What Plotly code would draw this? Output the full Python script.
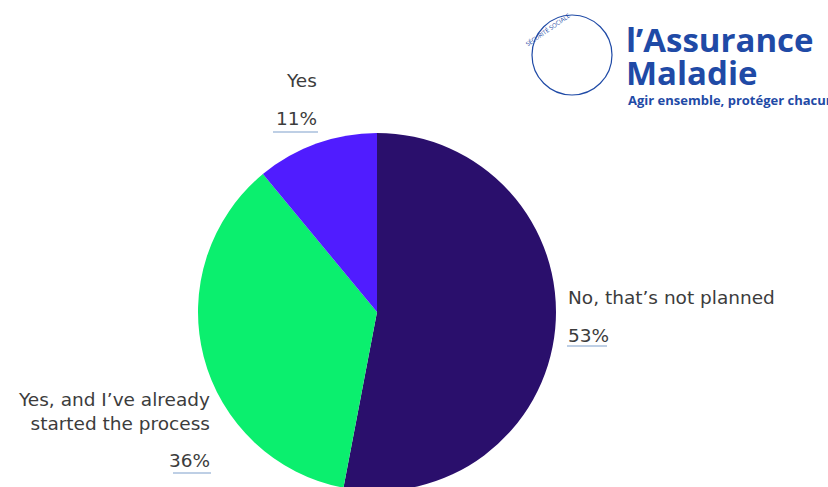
import plotly.graph_objects as go

# ---- data ----
labels = ["No, that’s not planned", "Yes, and I’ve already started the process", "Yes"]
label_text = ["No, that’s not planned", "Yes, and I’ve already<br>started the process", "Yes"]
values = [53, 36, 11]
pct_text = ["53%", "36%", "11%"]
colors = ["#2a0f6c", "#0bef6e", "#501cff"]

W, H = 828, 491
TOP = 133

def px(x):
    return x / W

def py(y):
    return (H - y) / (H - TOP)

fig = go.Figure(go.Pie(
    labels=labels,
    values=values,
    marker=dict(colors=colors, line=dict(width=0)),
    sort=False,
    direction="clockwise",
    rotation=0,
    textinfo="none",
    hoverinfo="label+percent",
    domain=dict(x=[px(198), px(556)], y=[0, 1]),
    showlegend=False,
))

txt_font = dict(family="DejaVu Sans, sans-serif", size=18.5, color="#3c3c3c")
under_col = "#a9bfdc"

ann = []
shapes = []
# label positions (layout)
pos = [
    dict(lx=566, ly=297, lanchor="left", px_=566, py_=335, ux=(567, 607), uy=346),
    dict(lx=212, ly=411, lanchor="right", px_=212, py_=460, ux=(173, 211), uy=473),
    dict(lx=319, ly=80, lanchor="right", px_=319, py_=118, ux=(273, 318), uy=132),
]
for i, p in enumerate(pos):
    ann.append(dict(text=label_text[i], x=px(p["lx"]), y=py(p["ly"]), xref="paper", yref="paper",
                    xanchor=p["lanchor"], yanchor="middle", align=p["lanchor"], showarrow=False,
                    font=txt_font))
    ann.append(dict(text=pct_text[i], x=px(p["px_"]), y=py(p["py_"]), xref="paper", yref="paper",
                    xanchor=p["lanchor"], yanchor="middle", showarrow=False, font=txt_font))
    shapes.append(dict(type="line", xref="paper", yref="paper",
                       x0=px(p["ux"][0]), x1=px(p["ux"][1]), y0=py(p["uy"]), y1=py(p["uy"]),
                       line=dict(color=under_col, width=1.5)))

# logo text
logo_col = "#1f4aa6"
ann.append(dict(text="<b>l’Assurance</b>", x=px(624), y=py(40), xref="paper", yref="paper",
                xanchor="left", yanchor="middle", showarrow=False,
                font=dict(family="Open Sans, sans-serif", size=33, color=logo_col)))
ann.append(dict(text="<b>Maladie</b>", x=px(624), y=py(72), xref="paper", yref="paper",
                xanchor="left", yanchor="middle", showarrow=False,
                font=dict(family="Open Sans, sans-serif", size=33, color=logo_col)))
ann.append(dict(text="<b>Agir ensemble, protéger chacun</b>", x=px(626), y=py(100), xref="paper", yref="paper",
                xanchor="left", yanchor="middle", showarrow=False,
                font=dict(family="Open Sans, sans-serif", size=13, color=logo_col)))
ann.append(dict(text="SÉCURITÉ SOCIALE", x=px(548), y=py(30), xref="paper", yref="paper",
                xanchor="center", yanchor="middle", showarrow=False, textangle=-35,
                font=dict(family="Open Sans, sans-serif", size=6, color=logo_col)))
# logo ring
shapes.append(dict(type="circle", xref="paper", yref="paper",
                   x0=px(532), x1=px(612), y0=py(95), y1=py(15),
                   line=dict(color=logo_col, width=1.2)))

fig.update_layout(
    width=W, height=H,
    margin=dict(l=0, r=0, t=TOP, b=0),
    paper_bgcolor="white",
    plot_bgcolor="white",
    annotations=ann,
    shapes=shapes,
)

fig.write_html("out.html", config={"displayModeBar": False},
               post_script="document.documentElement.style.overflow='hidden';document.body.style.overflow='hidden';")
